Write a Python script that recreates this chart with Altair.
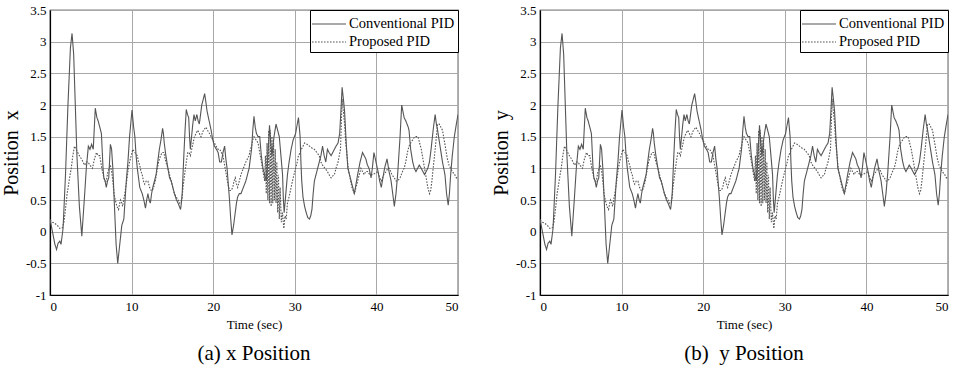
import altair as alt
import pandas as pd

conv_t = [0, 0.3, 0.6, 0.8, 1.0, 1.2, 1.35, 1.6, 1.9, 2.2, 2.5, 2.7, 2.9, 3.1, 3.3, 3.6, 3.9, 4.2, 4.45, 4.7, 4.9, 5.1, 5.3, 5.55, 5.75, 5.9, 6.1, 6.3, 6.5, 6.6, 6.75, 6.9, 7.05, 7.2, 7.4, 7.55, 7.7, 7.9, 8.1, 8.3, 8.55, 8.8, 9.05, 9.35, 9.55, 9.75, 10.05, 10.25, 10.4, 10.55, 10.7, 10.85, 11.0, 11.15, 11.3, 11.5, 11.7, 11.85, 12.0, 12.15, 12.3, 12.45, 12.6, 12.8, 13.0, 13.2, 13.4, 13.6, 13.8, 13.9, 14.0, 14.2, 14.45, 14.65, 14.85, 15.05, 15.25, 15.5, 15.7, 15.85, 16.0, 16.1, 16.2, 16.3, 16.4, 16.55, 16.7, 16.85, 17.0, 17.1, 17.2, 17.35, 17.5, 17.65, 17.8, 18.0, 18.15, 18.3, 18.45, 18.6, 18.8, 18.95, 19.1, 19.25, 19.5, 19.75, 19.95, 20.15, 20.4, 20.6, 20.8, 21.0, 21.2, 21.4, 21.55, 21.7, 21.85, 22.0, 22.15, 22.3, 22.5, 22.7, 22.85, 23.0, 23.2, 23.4, 23.7, 24.0, 24.2, 24.4, 24.55, 24.7, 24.85, 25.0, 25.15, 25.3, 25.5, 25.7, 25.9, 26.1, 26.3, 26.5, 26.7, 26.9, 27.05, 27.2, 27.45, 27.7, 27.9, 28.1, 28.3, 28.5, 28.6, 28.7, 28.9, 29.1, 29.3, 29.55, 29.8, 30.1, 30.3, 30.45, 30.55, 30.65, 30.75, 30.85, 31.0, 31.2, 31.4, 31.6, 31.8, 31.95, 32.1, 32.25, 32.4, 32.6, 32.8, 33.0, 33.2, 33.4, 33.6, 33.8, 34.0, 34.2, 34.45, 34.65, 34.85, 35.05, 35.3, 35.5, 35.65, 35.8, 35.95, 36.1, 36.3, 36.5, 36.7, 36.9, 37.1, 37.3, 37.5, 37.7, 38.0, 38.3, 38.5, 38.7, 38.9, 39.1, 39.35, 39.5, 39.7, 39.95, 40.2, 40.4, 40.6, 40.8, 41.0, 41.3, 41.55, 41.8, 42.0, 42.2, 42.4, 42.6, 42.75, 42.9, 43.1, 43.25, 43.4, 43.6, 43.75, 43.9, 44.0, 44.2, 44.45, 44.65, 44.85, 45.05, 45.25, 45.5, 45.7, 45.9, 46.1, 46.3, 46.5, 46.7, 46.95, 47.2, 47.35, 47.5, 47.8, 48.1, 48.25, 48.4, 48.6, 48.8, 48.95, 49.1, 49.3, 49.55, 49.8, 50.0]
conv_v = [0.2, 0.0, -0.2, -0.28, -0.18, -0.15, -0.2, 0.05, 0.9, 2.0, 2.9, 3.13, 2.8, 2.0, 1.2, 0.4, -0.07, 0.5, 1.0, 1.35, 1.3, 1.38, 1.3, 1.95, 1.8, 1.75, 1.65, 1.55, 1.0, 0.85, 0.8, 0.7, 0.8, 0.85, 1.38, 1.3, 1.0, 0.4, -0.2, -0.5, -0.2, 0.1, 0.2, 0.8, 1.1, 1.5, 1.92, 1.65, 1.5, 1.2, 1.0, 0.85, 0.7, 0.65, 0.6, 0.5, 0.37, 0.5, 0.6, 0.5, 0.45, 0.6, 0.7, 0.8, 0.9, 1.1, 1.3, 1.45, 1.63, 1.55, 1.4, 1.2, 1.0, 0.85, 0.8, 0.7, 0.6, 0.5, 0.45, 0.4, 0.35, 0.45, 0.6, 0.9, 1.2, 1.6, 1.93, 1.85, 1.8, 1.5, 1.3, 1.5, 1.7, 1.85, 1.75, 1.85, 1.75, 1.7, 1.85, 2.0, 2.1, 2.18, 2.05, 1.9, 1.75, 1.6, 1.45, 1.35, 1.3, 1.25, 1.1, 1.1, 1.25, 1.35, 1.15, 1.0, 0.75, 0.5, 0.2, -0.05, 0.1, 0.3, 0.45, 0.55, 0.6, 0.6, 0.7, 0.8, 0.9, 1.0, 1.15, 1.3, 1.6, 1.82, 1.65, 1.55, 1.5, 1.5, 1.2, 1.0, 0.9, 0.8, 1.2, 1.68, 1.4, 1.2, 1.5, 1.7, 1.6, 1.5, 1.2, 0.9, 0.5, 0.3, 0.6, 0.9, 1.1, 1.3, 1.45, 1.55, 1.7, 1.8, 1.65, 1.5, 1.1, 0.8, 0.55, 0.4, 0.3, 0.22, 0.2, 0.25, 0.35, 0.6, 0.8, 0.9, 1.0, 1.1, 1.2, 1.35, 1.2, 1.1, 1.3, 1.25, 1.2, 1.25, 1.3, 1.35, 1.4, 1.55, 1.9, 2.28, 2.1, 1.9, 1.4, 1.0, 0.9, 0.8, 0.7, 0.6, 0.75, 0.9, 1.1, 1.25, 1.2, 1.15, 1.05, 1.0, 0.85, 1.0, 1.25, 1.1, 0.95, 0.8, 0.7, 0.85, 1.0, 1.15, 0.95, 0.8, 0.6, 0.4, 0.6, 0.9, 1.2, 1.5, 2.0, 1.9, 1.8, 1.75, 1.7, 1.65, 1.6, 1.3, 1.1, 1.0, 0.95, 1.0, 1.05, 1.0, 0.95, 0.9, 0.95, 1.0, 1.1, 1.3, 1.6, 1.85, 1.7, 1.6, 1.35, 1.1, 1.0, 0.9, 0.6, 0.42, 0.6, 0.9, 1.2, 1.5, 1.7, 1.85]

prop_t = [0, 0.3, 0.6, 0.9, 1.2, 1.5, 1.7, 1.9, 2.1, 2.4, 2.6, 2.8, 3.0, 3.2, 3.4, 3.6, 3.85, 4.05, 4.25, 4.45, 4.65, 4.9, 5.2, 5.45, 5.7, 5.9, 6.1, 6.35, 6.6, 6.75, 6.9, 7.1, 7.4, 7.55, 7.7, 7.85, 8.0, 8.2, 8.4, 8.55, 8.65, 8.8, 8.9, 9.1, 9.35, 9.55, 9.75, 9.95, 10.15, 10.4, 10.7, 10.85, 11.0, 11.15, 11.3, 11.45, 11.6, 11.8, 12.0, 12.2, 12.4, 12.55, 12.7, 12.9, 13.1, 13.3, 13.55, 13.75, 13.95, 14.2, 14.45, 14.65, 14.85, 15.05, 15.25, 15.45, 15.7, 15.9, 16.15, 16.3, 16.5, 16.7, 16.9, 17.05, 17.2, 17.45, 17.7, 17.9, 18.1, 18.3, 18.5, 18.8, 19.1, 19.3, 19.55, 19.75, 19.95, 20.15, 20.35, 20.6, 20.8, 21.0, 21.2, 21.4, 21.6, 21.8, 22.0, 22.2, 22.4, 22.55, 22.7, 22.85, 23.0, 23.2, 23.4, 23.7, 24.0, 24.2, 24.4, 24.55, 24.7, 24.85, 25.0, 25.25, 25.5, 25.7, 25.9, 26.1, 26.3, 26.4, 26.5, 26.6, 26.7, 26.8, 26.9, 27.0, 27.1, 27.2, 27.3, 27.4, 27.5, 27.6, 27.7, 27.8, 27.9, 28.0, 28.1, 28.2, 28.35, 28.5, 28.65, 28.8, 28.95, 29.1, 29.3, 29.55, 29.8, 30.1, 30.3, 30.45, 30.65, 30.8, 31.0, 31.2, 31.5, 31.8, 32.1, 32.4, 32.7, 33.0, 33.2, 33.4, 33.7, 34.0, 34.2, 34.45, 34.65, 34.85, 35.05, 35.3, 35.45, 35.6, 35.7, 35.8, 35.95, 36.1, 36.25, 36.4, 36.55, 36.7, 36.85, 37.0, 37.15, 37.3, 37.5, 37.7, 37.9, 38.1, 38.3, 38.5, 38.7, 38.9, 39.2, 39.5, 39.8, 40.2, 40.4, 40.6, 40.9, 41.2, 41.4, 41.6, 41.9, 42.2, 42.4, 42.6, 42.9, 43.2, 43.4, 43.6, 43.8, 44.0, 44.2, 44.45, 44.7, 44.9, 45.1, 45.3, 45.5, 45.7, 45.9, 46.1, 46.3, 46.5, 46.65, 46.8, 47.0, 47.2, 47.35, 47.5, 47.7, 47.9, 48.1, 48.3, 48.5, 48.7, 48.9, 49.1, 49.3, 49.6, 49.8, 50.0]
prop_v = [0.18, 0.15, 0.13, 0.1, 0.05, 0.06, 0.15, 0.35, 0.6, 0.85, 1.0, 1.2, 1.35, 1.3, 1.25, 1.2, 1.15, 1.1, 1.05, 1.1, 1.1, 1.05, 1.0, 1.15, 1.25, 1.2, 1.2, 1.0, 0.85, 0.8, 0.8, 0.95, 1.05, 0.95, 0.8, 0.6, 0.5, 0.4, 0.35, 0.45, 0.5, 0.45, 0.4, 0.55, 0.75, 0.95, 1.1, 1.2, 1.3, 1.25, 1.2, 1.1, 1.05, 0.95, 0.9, 0.8, 0.75, 0.8, 0.8, 0.7, 0.65, 0.65, 0.7, 0.8, 0.95, 1.1, 1.2, 1.25, 1.25, 1.1, 1.0, 0.9, 0.8, 0.7, 0.6, 0.55, 0.5, 0.45, 0.5, 0.7, 0.9, 1.1, 1.25, 1.25, 1.2, 1.35, 1.5, 1.55, 1.6, 1.55, 1.5, 1.6, 1.65, 1.6, 1.55, 1.5, 1.45, 1.4, 1.35, 1.3, 1.3, 1.25, 1.2, 1.05, 0.9, 0.75, 0.65, 0.65, 0.7, 0.8, 0.85, 0.75, 0.7, 0.8, 0.9, 1.0, 1.1, 1.15, 1.2, 1.3, 1.35, 1.45, 1.5, 1.45, 1.4, 1.25, 1.1, 0.95, 0.8, 1.2, 0.6, 1.4, 0.5, 1.6, 0.45, 1.6, 0.4, 1.5, 0.45, 1.4, 0.5, 1.3, 0.45, 1.1, 0.3, 0.9, 0.2, 0.7, 0.15, 0.3, 0.05, 0.25, 0.2, 0.45, 0.55, 0.7, 0.85, 1.0, 1.1, 1.2, 1.25, 1.3, 1.35, 1.4, 1.38, 1.35, 1.32, 1.3, 1.25, 1.2, 1.1, 1.05, 1.0, 0.95, 0.9, 0.85, 0.88, 0.9, 1.0, 1.1, 1.2, 1.3, 1.7, 2.1, 1.9, 1.7, 1.4, 1.2, 1.0, 0.9, 0.8, 0.7, 0.65, 0.6, 0.7, 0.8, 0.9, 1.0, 0.95, 0.9, 0.95, 0.95, 0.9, 0.9, 0.92, 0.95, 0.85, 0.8, 0.9, 0.95, 1.0, 1.0, 0.9, 0.85, 0.8, 0.8, 0.85, 0.95, 1.0, 1.1, 1.25, 1.35, 1.4, 1.45, 1.5, 1.5, 1.5, 1.4, 1.3, 1.15, 1.0, 0.85, 0.7, 0.6, 0.65, 0.8, 1.05, 1.3, 1.5, 1.7, 1.7, 1.65, 1.6, 1.45, 1.3, 1.15, 1.05, 1.0, 0.95, 0.9, 0.85, 0.85]

series_names = ["Conventional PID", "Proposed PID"]
y_ticks = [-1, -0.5, 0, 0.5, 1, 1.5, 2, 2.5, 3, 3.5]
x_ticks = [0, 10, 20, 30, 40, 50]

df = pd.concat([
    pd.DataFrame({"t": conv_t, "v": conv_v, "s": series_names[0]}),
    pd.DataFrame({"t": prop_t, "v": prop_v, "s": series_names[1]}),
])

FONT = "Liberation Serif"
NB = "\u00a0"


def panel(ytitle, caption):
    legend = alt.Legend(title=None, symbolType="M-1.7,0L1.7,0", symbolSize=400,
                        symbolOffset=5, labelOffset=9, symbolStrokeWidth=1.1,
                        labelFont=FONT, labelFontSize=14.5, labelColor="black")
    return alt.Chart(df, title=alt.TitleParams(caption, orient="bottom", font=FONT,
                                               fontSize=21, fontWeight="normal",
                                               color="black", offset=12)).mark_line(
        strokeWidth=1.1, clip=True
    ).encode(
        x=alt.X("t:Q", scale=alt.Scale(domain=[0, 50], nice=False),
                axis=alt.Axis(values=x_ticks, title="Time (sec)", titleFontSize=13,
                              titleFont=FONT, titleFontWeight="normal", titlePadding=5,
                              labelFont=FONT, labelFontSize=13, labelPadding=5)),
        y=alt.Y("v:Q", scale=alt.Scale(domain=[-1, 3.5], nice=False, zero=False),
                axis=alt.Axis(values=y_ticks, title=ytitle, titleFontSize=20,
                              titleFont=FONT, titleFontWeight="normal", titlePadding=4,
                              labelFont=FONT, labelFontSize=13,
                              labelExpr="'' + datum.value")),
        color=alt.Color("s:N", scale=alt.Scale(domain=series_names, range=["#555555", "#555555"]),
                        legend=legend),
        strokeDash=alt.StrokeDash("s:N", scale=alt.Scale(domain=series_names, range=[[1, 0], [1.6, 1.4]]),
                                  legend=legend),
        strokeWidth=alt.StrokeWidth("s:N", scale=alt.Scale(domain=series_names, range=[1.1, 1.6]),
                                    legend=None),
        order="t:Q",
    ).properties(width=408, height=285)


chart = alt.hconcat(
    panel("Position" + NB + NB + "x", "(a) x Position"),
    panel("Position" + NB + NB + "y", "(b)" + NB + NB + "y Position"),
    spacing=30,
).resolve_legend(color="independent", strokeDash="independent").configure(
    padding={"left": 0, "top": 3, "right": 5, "bottom": 5}
).configure_view(
    stroke="black", strokeWidth=1.2
).configure_axis(
    domainColor="black", domainWidth=1.2, gridColor="#a8a8a8", gridWidth=1,
    ticks=False, labelPadding=4, labelFont=FONT, labelFontSize=13, labelColor="black",
    titleColor="black"
).configure_legend(
    orient="top-right", offset=0, padding=3, strokeColor="black", fillColor="white",
    rowPadding=0, cornerRadius=0
)

chart.save("out.html", embed_options={"renderer": "svg", "actions": False})
